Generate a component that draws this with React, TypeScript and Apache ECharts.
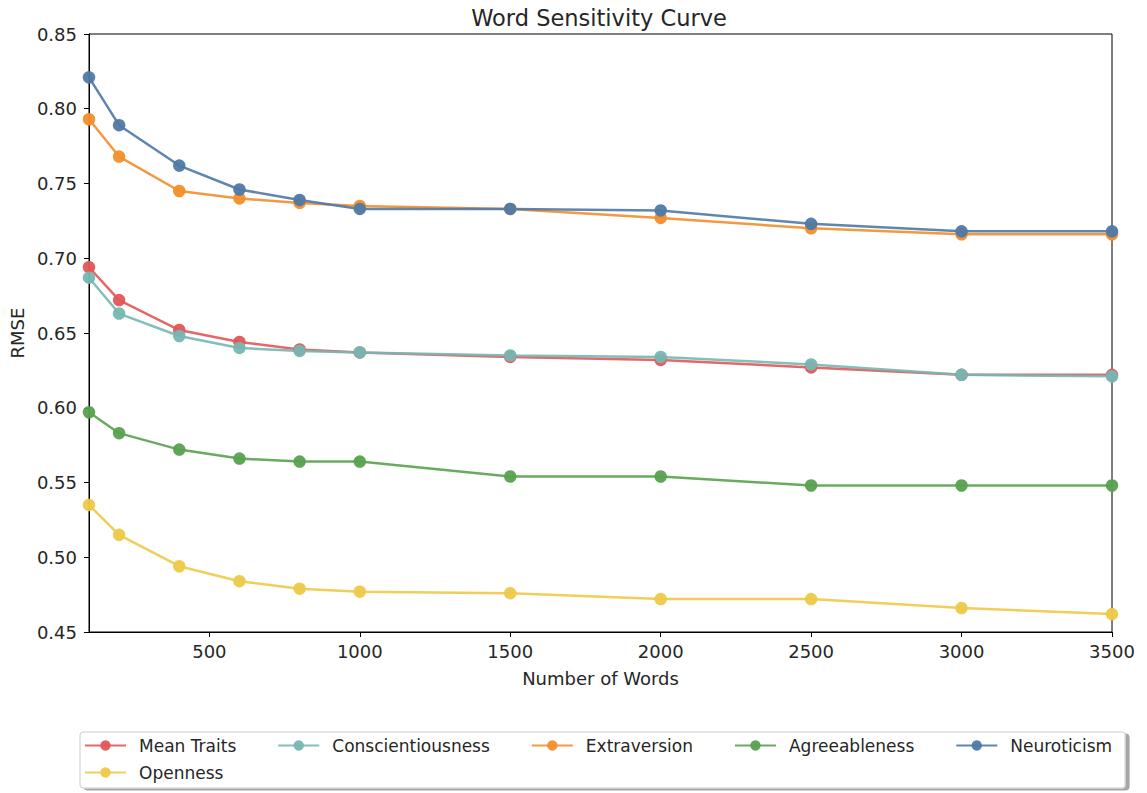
import React, { useEffect, useRef } from "react";
import * as echarts from "echarts";

const words = [100, 200, 400, 600, 800, 1000, 1500, 2000, 2500, 3000, 3500];
const meanTraits = [0.694, 0.672, 0.652, 0.644, 0.639, 0.637, 0.634, 0.632, 0.627, 0.622, 0.622];
const conscientiousness = [0.687, 0.663, 0.648, 0.640, 0.638, 0.637, 0.635, 0.634, 0.629, 0.622, 0.621];
const extraversion = [0.793, 0.768, 0.745, 0.740, 0.737, 0.735, 0.733, 0.727, 0.720, 0.716, 0.716];
const agreeableness = [0.597, 0.583, 0.572, 0.566, 0.564, 0.564, 0.554, 0.554, 0.548, 0.548, 0.548];
const neuroticism = [0.821, 0.789, 0.762, 0.746, 0.739, 0.733, 0.733, 0.732, 0.723, 0.718, 0.718];
const openness = [0.535, 0.515, 0.494, 0.484, 0.479, 0.477, 0.476, 0.472, 0.472, 0.466, 0.462];

const seriesNames = ["Mean Traits", "Conscientiousness", "Extraversion", "Agreeableness", "Neuroticism", "Openness"];
const seriesData = [meanTraits, conscientiousness, extraversion, agreeableness, neuroticism, openness];
const colors = ["#e15759", "#76b7b2", "#f28e2b", "#59a14f", "#4e79a7", "#edc948"];
const xTicks = [500, 1000, 1500, 2000, 2500, 3000, 3500];

const FONT = "DejaVu Sans";

export default function App() {
  const ref = useRef<HTMLDivElement>(null);
  useEffect(() => {
    if (!ref.current) return;
    const chart = echarts.init(ref.current, null, { renderer: "svg" });
    const textColor = "#262626";
    chart.setOption({
      animation: false,
      textStyle: { fontFamily: FONT },
      title: {
        text: "Word Sensitivity Curve",
        left: 594,
        textAlign: "center",
        top: 1,
        textStyle: { fontFamily: FONT, fontSize: 22.5, fontWeight: "normal", color: textColor },
      },
      grid: {
        left: 89,
        right: 35,
        top: 34,
        bottom: 161,
        show: true,
        borderColor: "#000",
        borderWidth: 1,
      },
      xAxis: {
        type: "value",
        min: 100,
        max: 3500,
        name: "Number of Words",
        nameLocation: "middle",
        nameGap: 37,
        nameTextStyle: { fontFamily: FONT, fontSize: 18, color: textColor },
        axisLine: { show: true, lineStyle: { color: "#000", width: 1 } },
        axisTick: { show: true, length: 5, inside: false, customValues: xTicks, lineStyle: { color: "#000" } },
        axisLabel: {
          customValues: xTicks,
          margin: 10,
          fontFamily: FONT,
          fontSize: 18,
          color: textColor,
          formatter: (v: number) => String(v),
        },
        splitLine: { show: false },
      },
      yAxis: {
        type: "value",
        min: 0.45,
        max: 0.85,
        interval: 0.05,
        name: "RMSE",
        nameLocation: "middle",
        nameGap: 62,
        nameRotate: 90,
        nameTextStyle: { fontFamily: FONT, fontSize: 18, color: textColor },
        axisLine: { show: true, lineStyle: { color: "#000", width: 1 } },
        axisTick: { show: true, length: 5, inside: false, lineStyle: { color: "#000" } },
        axisLabel: {
          margin: 12,
          fontFamily: FONT,
          fontSize: 18,
          color: textColor,
          formatter: (v: number) => v.toFixed(2),
        },
        splitLine: { show: false },
      },
      legend: [
        {
          data: seriesNames.slice(0, 5),
          left: 80,
          top: 732,
          orient: "horizontal",
          padding: [5, 13, 34, 4],
          itemGap: 41,
          itemWidth: 41,
          itemHeight: 13,
          borderColor: "#cccccc",
          borderWidth: 1,
          borderRadius: 3,
          backgroundColor: "#fff",
          shadowColor: "rgba(0,0,0,0.35)",
          shadowBlur: 1,
          shadowOffsetX: 4,
          shadowOffsetY: 2,
          textStyle: { fontFamily: FONT, fontSize: 17, color: textColor, padding: [0, 0, 0, 8] },
        },
        {
          data: seriesNames.slice(5),
          left: 84,
          top: 764,
          padding: 0,
          itemWidth: 41,
          itemHeight: 13,
          textStyle: { fontFamily: FONT, fontSize: 17, color: textColor, padding: [0, 0, 0, 8] },
        },
      ],
      series: seriesNames.map((name, i) => ({
        name,
        type: "line",
        data: words.map((w, j) => [w, seriesData[i][j]]),
        symbol: "circle",
        symbolSize: 12.5,
        color: colors[i],
        lineStyle: { width: 2.5, color: colors[i], opacity: 0.9 },
        itemStyle: { color: colors[i], opacity: 0.95 },
      })),
    });
    return () => chart.dispose();
  }, []);
  return (
    <div
      ref={ref}
      style={{ position: "fixed", left: 0, top: 0, width: 1147, height: 793, background: "#fff" }}
    />
  );
}
